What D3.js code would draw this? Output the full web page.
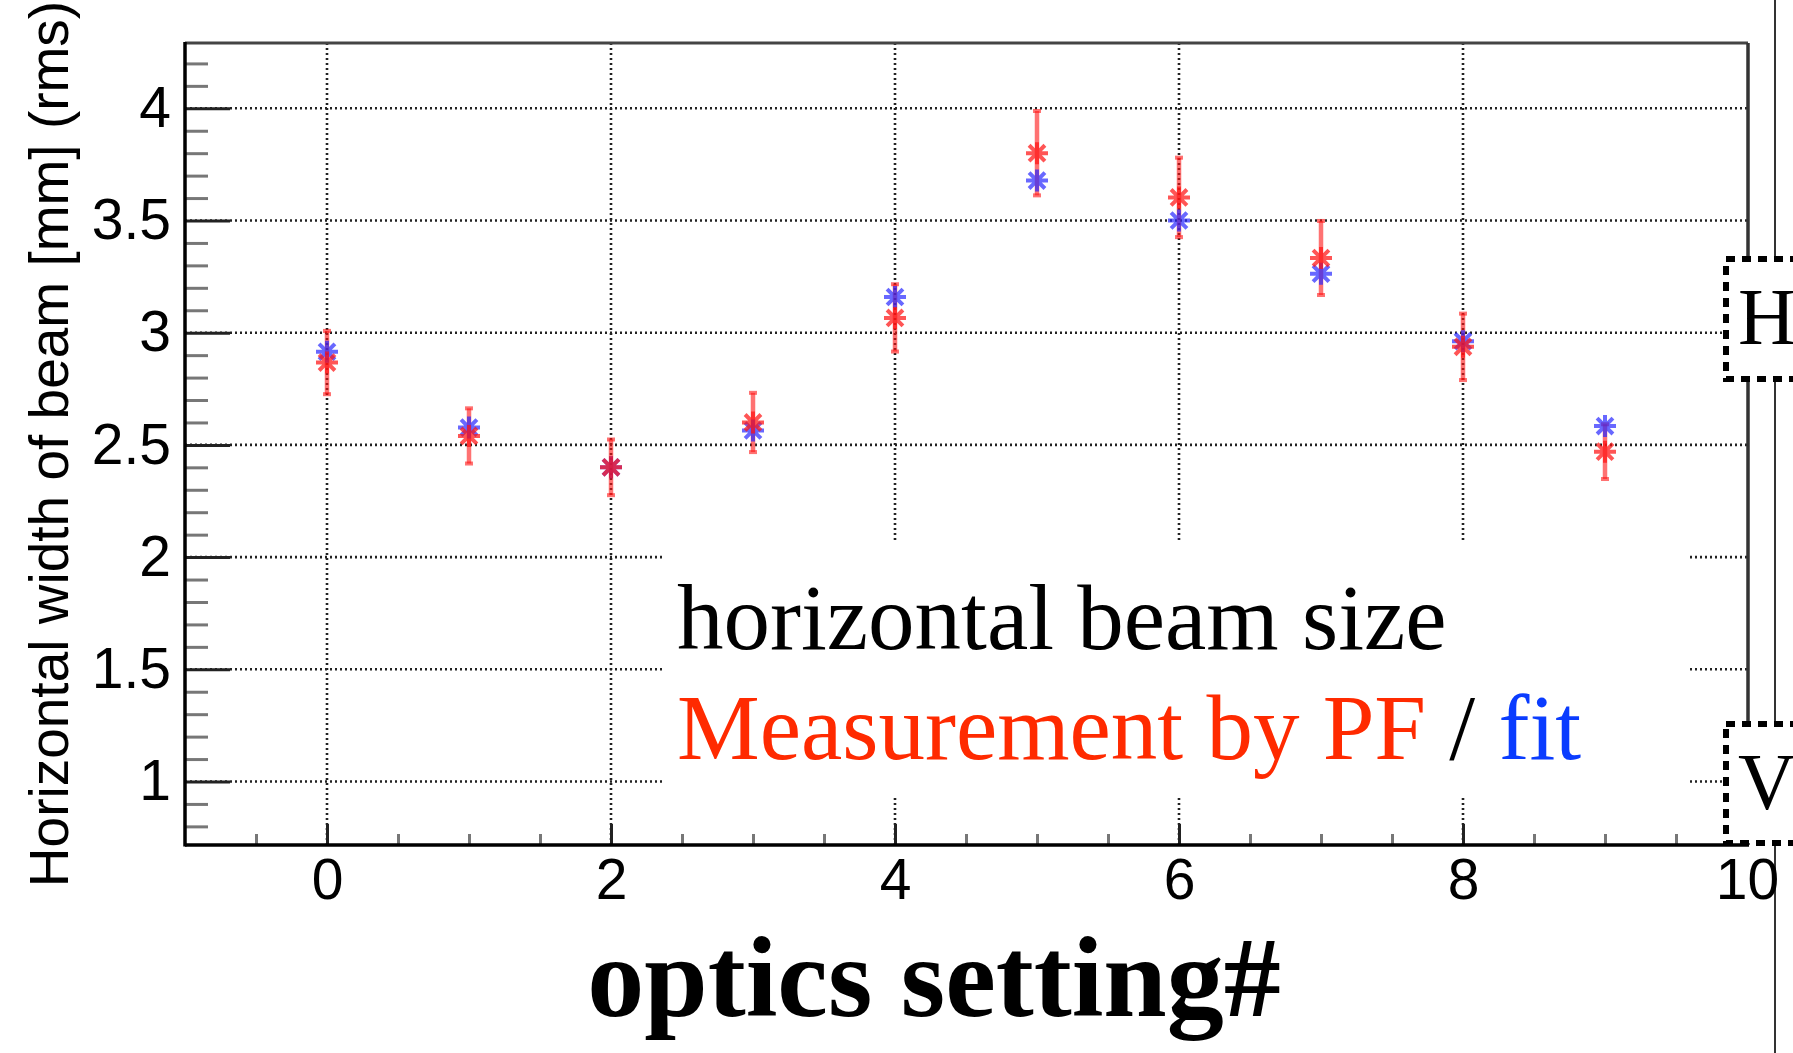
<!DOCTYPE html>
<html>
  <head>
    <meta charset="utf-8">
    <title>horizontal beam size</title>
    <script src="https://cdn.jsdelivr.net/npm/d3@7/dist/d3.min.js"></script>
	<style>
body {
  margin: 0;
  background: #fff;
}
.tick text {
  font-family: "Liberation Sans", Arial, sans-serif;
  font-size: 57px;
  fill: #000;
}
.domain {
  display: none;
}
.grid line {
  stroke: #222;
  stroke-width: 2.6px;
  stroke-dasharray: 2, 3;
}
.errBar {
  stroke: rgba(255, 20, 20, 0.6);
  stroke-width: 4.5px;
}
.serif {
  font-family: "Liberation Serif", "Times New Roman", serif;
}
	</style>
  </head>
  <body>
<script>

// optics setting numbers
var settings = [0, 1, 2, 3, 4, 5, 6, 7, 8, 9];
// measured horizontal width by PF [mm] (rms), with error
var pfWidth = [2.867, 2.540, 2.400, 2.600, 3.066, 3.800, 3.603, 3.333, 2.937, 2.470];
var pfError = [0.141, 0.123, 0.124, 0.132, 0.150, 0.188, 0.177, 0.165, 0.148, 0.122];
// fit values [mm]
var fitWidth = [2.915, 2.577, 2.400, 2.564, 3.159, 3.678, 3.500, 3.263, 2.962, 2.584];

var xMajor = [0, 2, 4, 6, 8, 10];
var xMinor = [-0.5, 0.5, 1, 1.5, 2.5, 3, 3.5, 4.5, 5, 5.5, 6.5, 7, 7.5, 8.5, 9, 9.5];
var yMajor = [1, 1.5, 2, 2.5, 3, 3.5, 4];
var yMinor = [0.8, 0.9, 1.1, 1.2, 1.3, 1.4, 1.6, 1.7, 1.8, 1.9, 2.1, 2.2, 2.3, 2.4,
              2.6, 2.7, 2.8, 2.9, 3.1, 3.2, 3.3, 3.4, 3.6, 3.7, 3.8, 3.9, 4.1, 4.2];

var W = 1793, H = 1053;
var pLeft = 185, pRight = 1748, pTop = 43, pBottom = 845;

var x = d3.scaleLinear()
  .domain([-1, 10])
  .range([pLeft, pRight - 1]);

var y = d3.scaleLinear()
  .domain([0.717, 4.291])
  .range([pBottom, pTop]);

var svg = d3.select("body").append("svg")
  .attr("width", W)
  .attr("height", H);

// thin slide line on far right
svg.append("line")
  .attr("x1", 1775).attr("x2", 1775)
  .attr("y1", 0).attr("y2", H)
  .style("stroke", "#333").style("stroke-width", 2);

// grid
var grid = svg.append("g").attr("class", "grid");
grid.selectAll(".gx").data(xMajor.filter(function(d) { return d < 10; }))
  .enter().append("line")
  .attr("x1", function(d) { return x(d); })
  .attr("x2", function(d) { return x(d); })
  .attr("y1", pTop)
  .attr("y2", pBottom);
grid.selectAll(".gy").data(yMajor)
  .enter().append("line")
  .attr("x1", pLeft)
  .attr("x2", pRight)
  .attr("y1", function(d) { return y(d); })
  .attr("y2", function(d) { return y(d); });

// minor ticks
svg.append("g")
  .attr("transform", "translate(" + pLeft + ",0)")
  .call(d3.axisLeft(y).tickValues(yMinor).tickSizeInner(-23).tickSizeOuter(0).tickFormat(""))
  .selectAll(".tick line").style("stroke", "#777").style("stroke-width", 3);

svg.append("g")
  .attr("transform", "translate(0," + pBottom + ")")
  .call(d3.axisBottom(x).tickValues(xMinor).tickSizeInner(-11).tickSizeOuter(0).tickFormat(""))
  .selectAll(".tick line").style("stroke", "#777").style("stroke-width", 3);

// major ticks with labels
var yAxis = svg.append("g")
  .attr("transform", "translate(" + pLeft + ",0)")
  .call(d3.axisLeft(y).tickValues(yMajor).tickSizeInner(-45).tickSizeOuter(0).tickPadding(14)
    .tickFormat(function(d) { return String(d); }));
yAxis.selectAll(".tick line").style("stroke", "#222").style("stroke-width", 3);

var xAxis = svg.append("g")
  .attr("transform", "translate(0," + pBottom + ")")
  .call(d3.axisBottom(x).tickValues(xMajor).tickSizeInner(-21).tickSizeOuter(0).tickPadding(14)
    .tickFormat(function(d) { return String(d); }));
xAxis.selectAll(".tick line").style("stroke", "#222").style("stroke-width", 3);

// frame
svg.append("line").attr("x1", pLeft).attr("x2", pRight).attr("y1", pTop).attr("y2", pTop)
  .style("stroke", "#444").style("stroke-width", 3);
svg.append("line").attr("x1", pRight).attr("x2", pRight).attr("y1", pTop).attr("y2", pBottom)
  .style("stroke", "#333").style("stroke-width", 3.5);
svg.append("line").attr("x1", pLeft).attr("x2", pLeft).attr("y1", pTop - 1).attr("y2", pBottom + 1.5)
  .style("stroke", "#000").style("stroke-width", 3.5);
svg.append("line").attr("x1", pLeft).attr("x2", pRight + 1).attr("y1", pBottom).attr("y2", pBottom)
  .style("stroke", "#000").style("stroke-width", 3.5);

// axis titles
svg.append("text")
  .attr("transform", "translate(68," + 444 + ") rotate(-90)")
  .attr("text-anchor", "middle")
  .style("font-family", "'Liberation Sans', Arial, sans-serif")
  .style("font-size", "55px")
  .text("Horizontal width of beam [mm] (rms)");

svg.append("text")
  .attr("class", "serif")
  .attr("x", 934)
  .attr("y", 1016)
  .attr("text-anchor", "middle")
  .style("font-size", "114px")
  .style("font-weight", "bold")
  .text("optics setting#");

// data points
function asterisk(r) {
  var a = r * 0.72;
  return "M" + (-r) + ",0L" + r + ",0M0," + (-r) + "L0," + r +
    "M" + (-a) + "," + (-a) + "L" + a + "," + a +
    "M" + (-a) + "," + a + "L" + a + "," + (-a);
}

var pts = svg.append("g");

pts.selectAll(".errBar").data(settings)
  .enter().append("line")
  .attr("class", "errBar")
  .attr("x1", function(d) { return x(d); })
  .attr("x2", function(d) { return x(d); })
  .attr("y1", function(d, i) { return y(pfWidth[i] + pfError[i]); })
  .attr("y2", function(d, i) { return y(pfWidth[i] - pfError[i]); });

pts.selectAll(".capT").data(settings)
  .enter().append("rect")
  .attr("x", function(d) { return x(d) - 4; })
  .attr("y", function(d, i) { return y(pfWidth[i] + pfError[i]) - 2; })
  .attr("width", 8).attr("height", 4)
  .style("fill", "rgba(255,20,20,0.6)");

pts.selectAll(".capB").data(settings)
  .enter().append("rect")
  .attr("x", function(d) { return x(d) - 4; })
  .attr("y", function(d, i) { return y(pfWidth[i] - pfError[i]) - 2; })
  .attr("width", 8).attr("height", 4)
  .style("fill", "rgba(255,20,20,0.6)");

pts.selectAll(".fit").data(settings)
  .enter().append("path")
  .attr("transform", function(d, i) { return "translate(" + x(d) + "," + y(fitWidth[i]) + ")"; })
  .attr("d", asterisk(11))
  .style("fill", "none")
  .style("stroke", "rgba(40,40,255,0.7)")
  .style("stroke-width", 4);

pts.selectAll(".pf").data(settings)
  .enter().append("path")
  .attr("transform", function(d, i) { return "translate(" + x(d) + "," + y(pfWidth[i]) + ")"; })
  .attr("d", asterisk(11))
  .style("fill", "none")
  .style("stroke", "rgba(255,20,20,0.72)")
  .style("stroke-width", 4);

// annotation box covering the lower grid
svg.append("rect")
  .attr("x", 664).attr("y", 543)
  .attr("width", 1023).attr("height", 252)
  .style("fill", "#fff");

svg.append("text")
  .attr("class", "serif")
  .attr("x", 677).attr("y", 649)
  .style("font-size", "93px")
  .style("fill", "#000")
  .text("horizontal beam size");

var leg = svg.append("text")
  .attr("class", "serif")
  .attr("x", 677).attr("y", 759)
  .style("font-size", "93px");
leg.append("tspan").style("fill", "#ff2a00").text("Measurement by PF");
leg.append("tspan").style("fill", "#000").text(" / ");
leg.append("tspan").style("fill", "#0a3cff").text("fit");

// H / V boxes cut at the right edge
var boxes = [{t: "H", y0: 259, y1: 379}, {t: "V", y0: 724, y1: 843}];
boxes.forEach(function(b) {
  svg.append("rect")
    .attr("x", 1726).attr("y", b.y0)
    .attr("width", 120).attr("height", b.y1 - b.y0)
    .style("fill", "#fff")
    .style("stroke", "#000")
    .style("stroke-width", 6)
    .style("stroke-dasharray", "9,7");
  svg.append("text")
    .attr("class", "serif")
    .attr("x", 1738).attr("y", b.y0 + 85)
    .style("font-size", "80px")
    .text(b.t);
});

</script>
  </body>
</html>
